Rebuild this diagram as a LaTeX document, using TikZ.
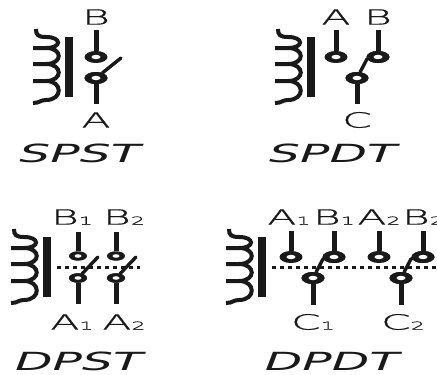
\documentclass[tikz,border=0pt]{standalone}
\usepackage{fontspec}
\usepackage{graphicx}
\setmainfont{DejaVu Sans ExtraLight}[FakeBold=0.7]
\newfontfamily\titlefont{DejaVu Sans}[ItalicFont={DejaVu Sans Oblique}]
\usetikzlibrary{shapes.geometric}
\newcommand{\lab}[2]{\scalebox{2.02}[1]{\fontsize{21}{21}\selectfont #1{\fontsize{11}{11}\selectfont #2}}}
\newcommand{\ttl}[1]{\scalebox{1.95}[1]{\fontsize{25}{25}\titlefont\itshape #1}}
\tikzset{
  x=1pt,y=-1pt,
  wire/.style={line width=5pt,black!90},
  blade/.style={line width=3.4pt,black!90,line cap=round,line join=round},
  contact/.style={ellipse,fill=black!90,minimum width=23pt,minimum height=12pt,inner sep=0pt,
    path picture={\fill[white] (path picture bounding box.center) ellipse [x radius=4.5pt,y radius=2.2pt];}},
  smallcontact/.style={ellipse,fill=black!90,minimum width=18pt,minimum height=9.5pt,inner sep=0pt,
    path picture={\fill[white] (path picture bounding box.center) ellipse [x radius=3.5pt,y radius=1.8pt];}},
  txt/.style={inner sep=0pt,anchor=center,text=black!90},
  gang/.style={line width=3pt,dash pattern=on 4pt off 4pt,black!90},
  coilpic/.pic={
    \draw[line width=4pt,black!90,line cap=butt,line join=miter]
      (36,29) .. controls (36,35) and (38,37) .. (46,37)
      .. controls (62,37) and (62,48) .. (46,48) -- (33,48) -- (46,48)
      .. controls (63,48) and (63,64) .. (46,64) -- (33,64) -- (46,64)
      .. controls (63,64) and (63,81) .. (46,81) -- (33,81) -- (46,81)
      .. controls (63,81) and (63,100) .. (46,100)
      .. controls (40,100) and (40,103) .. (33,103);
    \fill[black!90] (65,37) rectangle (73,97);
  }
}
\begin{document}
\begin{tikzpicture}
\useasboundingbox (0,0) rectangle (437,375);
% SPST
\pic at (0,0) {coilpic};
\coordinate (st) at (96,30); \coordinate (sb) at (96,104);
\node[contact] (s1) at (96,57) {};
\node[contact] (s2) at (96,78) {};
\coordinate (se) at (121,58);
\draw[wire] (st) -- (s1.north); \draw[wire] (s2.south) -- (sb);
\draw[blade] (s2) -- (se);
\node[contact] at (s2) {};
\node[txt] (lb) at (96,17) {\lab{B}{}};
\node[txt] (la) at (96,120) {\lab{A}{}};
\node[txt] (t1) at (80,153) {\ttl{SPST}};
% SPDT
\pic at (242,0) {coilpic};
\coordinate (at) at (336,30); \coordinate (bt) at (378,30); \coordinate (cb) at (357,104);
\node[contact] (a1) at (336,57) {};
\node[contact] (b1) at (378,57) {};
\node[contact] (c1) at (357,78) {};
\draw[wire] (at) -- (a1.north); \draw[wire] (bt) -- (b1.north); \draw[wire] (c1.south) -- (cb);
\draw[blade] (c1) -- (367,59) -- (b1);
\node[contact] at (c1) {};
\node[contact] at (b1) {};
\node[txt] (la2) at (336,17) {\lab{A}{}};
\node[txt] (lb2) at (378,17) {\lab{B}{}};
\node[txt] (lc2) at (357,120) {\lab{C}{}};
\node[txt] (t2) at (333,153) {\ttl{SPDT}};
% DPST
\pic at (-22,200) {coilpic};
\coordinate (g1) at (57,267); \coordinate (g2) at (140,267);
\draw[gang] (g1) -- (g2);
\foreach \n/\x in {p/78,q/116}{
  \coordinate (\n t) at (\x,232); \coordinate (\n b) at (\x,304);
  \node[smallcontact] (\n1) at (\x,256) {};
  \node[smallcontact] (\n2) at (\x,278) {};
  \coordinate (\n e) at (\x+20,257);
  \draw[wire] (\n t) -- (\n1.north); \draw[wire] (\n2.south) -- (\n b);
  \draw[blade] (\n2) -- (\n e);
  \node[smallcontact] at (\n2) {};
}
\node[txt] (lb1) at (72,217) {\lab{B}{1}};
\node[txt] (lb3) at (124,217) {\lab{B}{2}};
\node[txt] (la1) at (72,322) {\lab{A}{1}};
\node[txt] (la3) at (124,322) {\lab{A}{2}};
\node[txt] (t3) at (79,361) {\ttl{DPST}};
% DPDT
\pic at (193,200) {coilpic};
\coordinate (h1) at (272,267); \coordinate (h2) at (437,267);
\draw[gang] (h1) -- (h2);
\foreach \n/\xa/\xb/\xc in {u/291/334/313,v/379/423/401}{
  \coordinate (\n at) at (\xa,231); \coordinate (\n bt) at (\xb,231); \coordinate (\n cb) at (\xc,305);
  \node[contact] (\n a) at (\xa,257) {};
  \node[contact] (\n b) at (\xb,257) {};
  \node[contact] (\n c) at (\xc,278) {};
  \draw[wire] (\n at) -- (\n a.north); \draw[wire] (\n bt) -- (\n b.north); \draw[wire] (\n c.south) -- (\n cb);
  \draw[blade] (\n c) -- (\xc+10,259) -- (\n b);
  \node[contact] at (\n c) {};
  \node[contact] at (\n b) {};
}
\node[txt] (m1) at (289,217) {\lab{A}{1}};
\node[txt] (m2) at (334,217) {\lab{B}{1}};
\node[txt] (m3) at (379,217) {\lab{A}{2}};
\node[txt] (m4) at (423,217) {\lab{B}{2}};
\node[txt] (m5) at (313,322) {\lab{C}{1}};
\node[txt] (m6) at (403,322) {\lab{C}{2}};
\node[txt] (t4) at (332,361) {\ttl{DPDT}};
\end{tikzpicture}
\end{document}
